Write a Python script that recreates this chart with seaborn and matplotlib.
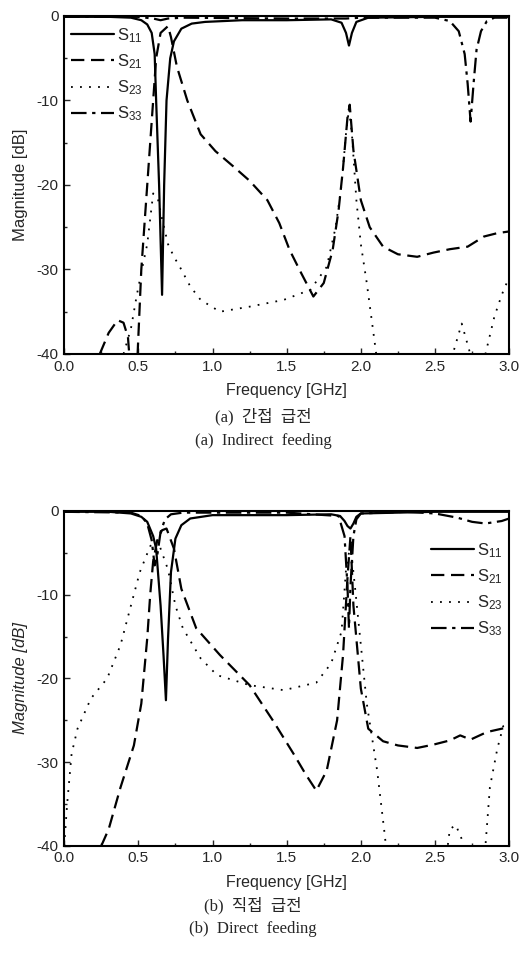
import matplotlib
matplotlib.use("Agg")
import matplotlib.pyplot as plt
import seaborn as sns
import numpy as np
from matplotlib.ticker import MultipleLocator

# ---- (a) indirect feeding ----
f_s11_a = [0.0, 0.3, 0.45, 0.52, 0.56, 0.59, 0.61, 0.62, 0.64, 0.66, 0.674, 0.69, 0.715, 0.74, 0.79, 0.86, 0.95, 1.2, 1.5, 1.8, 1.87, 1.9, 1.92, 1.94, 1.97, 2.05, 2.5, 3.0]
s11_a = [-0.1, -0.1, -0.2, -0.5, -1.0, -2.0, -4.5, -10, -20, -33, -20, -10, -5, -3, -1.5, -0.9, -0.7, -0.5, -0.5, -0.4, -0.8, -2.0, -3.5, -2.0, -0.7, -0.2, -0.1, -0.1]

f_s21_a = [0.24, 0.3, 0.36, 0.4, 0.43, 0.46, 0.49, 0.52, 0.56, 0.60, 0.62, 0.65, 0.70, 0.72, 0.76, 0.83, 0.92, 1.02, 1.14, 1.25, 1.37, 1.45, 1.52, 1.6, 1.68, 1.75, 1.81, 1.85, 1.88, 1.91, 1.925, 1.95, 2.0, 2.06, 2.15, 2.25, 2.38, 2.49, 2.6, 2.72, 2.83, 2.92, 3.0]
s21_a = [-40, -37.5, -36, -36.3, -38, -45, -42, -30, -20, -10, -5, -2, -1.2, -2.5, -6, -10, -14, -16, -17.8, -19.5, -21.8, -24.5, -27.7, -30.5, -33.2, -31.6, -27.7, -23, -18, -12, -10.5, -15.9, -21.8, -25, -27.3, -28.2, -28.5, -28, -27.6, -27.3, -26.1, -25.7, -25.5]

f_s23_a = [0.40, 0.45, 0.49, 0.53, 0.56, 0.6, 0.63, 0.66, 0.70, 0.74, 0.78, 0.85, 0.92, 1.05, 1.25, 1.48, 1.66, 1.77, 1.83, 1.87, 1.90, 1.92, 1.94, 1.97, 2.0, 2.04, 2.10, 2.14, 2.55, 2.62, 2.68, 2.73, 2.76, 2.8, 2.84, 2.9, 2.95, 3.0]
s23_a = [-40, -37, -33, -29.5, -27, -21, -21.5, -24, -27, -28.5, -29.7, -32, -33.6, -35, -34.4, -33.6, -32.4, -29.7, -25, -20, -13.9, -11, -14, -21.8, -27, -31.6, -39.5, -45, -45, -40, -36.4, -39.5, -42, -45, -40, -35.6, -33, -30.9]

f_s33_a = [0.0, 0.5, 0.6, 0.65, 0.7, 0.8, 1.5, 1.9, 2.0, 2.5, 2.6, 2.66, 2.7, 2.72, 2.74, 2.76, 2.78, 2.81, 2.85, 2.9, 3.0]
s33_a = [-0.1, -0.1, -0.3, -0.5, -0.3, -0.2, -0.3, -0.3, -0.2, -0.2, -0.6, -1.8, -4.5, -8, -12.5, -8, -4, -1.8, -0.6, -0.2, -0.2]

# ---- (b) direct feeding ----
f_s11_b = [0.0, 0.3, 0.45, 0.52, 0.56, 0.6, 0.62, 0.65, 0.67, 0.686, 0.70, 0.72, 0.75, 0.79, 0.85, 1.0, 1.5, 1.8, 1.86, 1.89, 1.91, 1.93, 1.95, 1.97, 2.0, 2.5, 3.0]
s11_b = [-0.1, -0.1, -0.3, -0.7, -1.3, -3.0, -4.5, -11.3, -17.3, -22.6, -15.3, -7.3, -3.3, -1.7, -0.9, -0.5, -0.5, -0.4, -0.6, -1.2, -1.8, -2.1, -1.5, -0.7, -0.3, -0.1, -0.1]

f_s21_b = [0.25, 0.3, 0.38, 0.47, 0.52, 0.56, 0.58, 0.6, 0.63, 0.66, 0.69, 0.74, 0.79, 0.89, 1.05, 1.25, 1.41, 1.55, 1.63, 1.7, 1.77, 1.84, 1.88, 1.91, 1.93, 1.95, 2.0, 2.05, 2.15, 2.25, 2.38, 2.49, 2.6, 2.67, 2.74, 2.85, 3.0]
s21_b = [-40, -38, -33, -28, -23, -15.2, -10, -6, -3.3, -2.3, -2.1, -4.5, -9.3, -14, -17.2, -20.8, -25.1, -29.1, -31.5, -33.4, -31, -25, -17.2, -8, -3, -11.3, -21.2, -26, -27.5, -28, -28.3, -27.9, -27.4, -26.8, -27.3, -26.4, -25.8]

f_s23_b = [0.0, 0.02, 0.05, 0.09, 0.18, 0.29, 0.38, 0.45, 0.51, 0.58, 0.63, 0.66, 0.70, 0.75, 0.80, 0.92, 1.03, 1.25, 1.48, 1.7, 1.8, 1.87, 1.9, 1.93, 1.96, 2.0, 2.04, 2.11, 2.16, 2.2, 2.55, 2.6, 2.64, 2.7, 2.8, 2.84, 2.87, 2.92, 2.96, 3.0]
s23_b = [-40, -35, -29, -26, -22.4, -20, -16, -11.3, -7.3, -4.2, -3.5, -5, -7, -11.3, -14, -17.6, -19.6, -20.8, -21.4, -20.5, -18.2, -14.4, -7, -4, -9, -16, -23, -31, -38.5, -45, -45, -38, -37.5, -40, -45, -40, -33, -28.4, -25.7, -25.5]

f_s33_b = [0.0, 0.45, 0.52, 0.56, 0.59, 0.61, 0.63, 0.65, 0.68, 0.72, 0.8, 1.5, 1.85, 1.89, 1.91, 1.92, 1.93, 1.95, 1.97, 2.0, 2.3, 2.5, 2.65, 2.75, 2.84, 2.95, 3.0]
s33_b = [-0.1, -0.2, -0.6, -1.5, -3.5, -6.5, -5.0, -2.5, -1.0, -0.4, -0.2, -0.2, -0.6, -3, -9, -14, -9, -3, -1, -0.3, -0.1, -0.3, -0.8, -1.3, -1.5, -1.2, -0.9]

labels = ["S$_{11}$", "S$_{21}$", "S$_{23}$", "S$_{33}$"]
styles = ["-", (0, (6, 3)), (0, (1, 4)), (0, (7, 2.5, 1.5, 2.5))]
widths = [1.6, 1.6, 1.3, 1.6]

sns.set_style("ticks")
plt.rcParams["font.family"] = ["Liberation Sans", "DejaVu Sans"]
plt.rcParams["mathtext.fontset"] = "custom"
plt.rcParams["mathtext.rm"] = "Liberation Sans"
plt.rcParams["mathtext.it"] = "Liberation Sans:italic"
plt.rcParams["axes.unicode_minus"] = False

fig = plt.figure(figsize=(5.26, 9.69), dpi=100)
ax_a = fig.add_axes([0.122, 0.6347, 0.846, 0.3488])
ax_b = fig.add_axes([0.122, 0.127, 0.846, 0.3457])

panels = [
    (ax_a, [(f_s11_a, s11_a), (f_s21_a, s21_a), (f_s23_a, s23_a), (f_s33_a, s33_a)]),
    (ax_b, [(f_s11_b, s11_b), (f_s21_b, s21_b), (f_s23_b, s23_b), (f_s33_b, s33_b)]),
]

for ax, series in panels:
    for (fx, fy), lab, ls, lw in zip(series, labels, styles, widths):
        sns.lineplot(x=fx, y=fy, ax=ax, color="black", linestyle=ls,
                     linewidth=lw, label=lab)
    ax.set_xlim(0, 3.0)
    ax.set_ylim(-40, 0)
    ax.xaxis.set_major_locator(MultipleLocator(0.5))
    ax.xaxis.set_minor_locator(MultipleLocator(0.25))
    ax.yaxis.set_major_locator(MultipleLocator(10))
    ax.yaxis.set_minor_locator(MultipleLocator(5))
    ax.set_xticks(np.arange(0, 3.01, 0.5))
    ax.set_xticklabels([f"{v:.1f}" for v in np.arange(0, 3.01, 0.5)])
    ax.tick_params(which="both", direction="in", labelsize=11, pad=4)
    ax.tick_params(which="major", length=4, width=1)
    ax.tick_params(which="minor", length=2, width=1)
    for sp in ax.spines.values():
        sp.set_linewidth(1.5)
        sp.set_color("black")
    ax.set_xlabel("Frequency [GHz]", fontsize=11.5, labelpad=7)

ax_a.set_ylabel("Magnitude [dB]", fontsize=12, labelpad=6)
ax_b.set_ylabel("Magnitude [dB]", fontsize=12, labelpad=6, style="italic")

leg_kw = dict(frameon=False, fontsize=12, handlelength=2.6, handletextpad=0.15,
              labelspacing=0.45, borderpad=0.2, borderaxespad=0.2)
ax_a.legend(loc="upper left", bbox_to_anchor=(0.0, 0.99), **leg_kw)
ax_b.legend(loc="upper right", bbox_to_anchor=(1.0, 0.93), **leg_kw)

cap_font = ["Liberation Serif", "Noto Sans CJK KR"]
fig.text(0.5, 1 - 417 / 969, "(a)  간접  급전", ha="center", va="center", fontsize=12, family=cap_font)
fig.text(0.5, 1 - 441 / 969, "(a)  Indirect  feeding", ha="center", va="center", fontsize=12, family=cap_font)
fig.text(0.48, 1 - 906 / 969, "(b)  직접  급전", ha="center", va="center", fontsize=12, family=cap_font)
fig.text(0.48, 1 - 929 / 969, "(b)  Direct  feeding", ha="center", va="center", fontsize=12, family=cap_font)

fig.savefig("out.png", dpi=100, facecolor="white")
